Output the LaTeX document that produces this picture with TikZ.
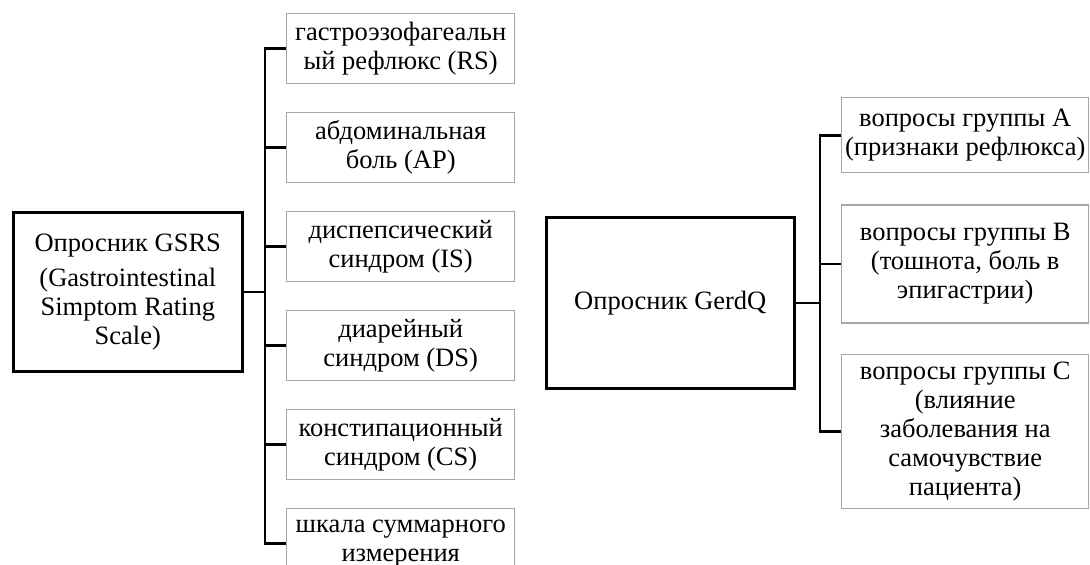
\documentclass[tikz,border=0pt]{standalone}
\usepackage{fontspec}
\setmainfont{Liberation Serif}
\newfontfamily\diagfont{Liberation Serif}
\usepackage{tikz}
\usetikzlibrary{positioning}
\definecolor{boxgray}{HTML}{A6A6A6}
\begin{document}
\begin{tikzpicture}[
  x=1pt, y=-1pt,
  node distance=27.6pt,
  every node/.style={font=\diagfont\fontsize{26.5}{29}\selectfont},
  main/.style={draw=black, line width=2.6pt, align=center, inner sep=0pt},
  item/.style={draw=boxgray, line width=1.4pt, align=center, inner sep=0pt, minimum width=228pt, minimum height=70pt},
  link/.style={line width=2.6pt, line join=miter}
]
\clip (0,0) rectangle (1090,565);
\node[main, minimum width=229pt, minimum height=159pt, anchor=north west] (gsrs) at (12,211) {Опросник GSRS\\[6pt](Gastrointestinal\\Simptom Rating\\Scale)};
\node[item, anchor=north west] (rs) at (286,13) {гастроэзофагеальн\\ый рефлюкс (RS)};
\node[item, below=of rs] (ap) {абдоминальная\\боль (AP)};
\node[item, below=of ap] (is) {диспепсический\\синдром (IS)};
\node[item, below=of is] (ds) {диарейный\\синдром (DS)};
\node[item, below=of ds] (cs) {констипационный\\синдром (CS)};
\node[item, below=of cs] (sum) {шкала суммарного\\измерения};

\node[main, minimum width=248pt, minimum height=171pt, anchor=north west] (gerdq) at (545,216) {Опросник GerdQ};
\node[item, minimum width=247pt, minimum height=75pt, anchor=north west] (qa) at (841,97) {вопросы группы A\\(признаки рефлюкса)};
\node[item, minimum width=247pt, minimum height=118pt, below=31pt of qa] (qb) {вопросы группы B\\(тошнота, боль в\\эпигастрии)};
\node[item, minimum width=247pt, minimum height=154pt, below=30pt of qb] (qc) {вопросы группы C\\(влияние\\заболевания на\\самочувствие\\пациента)};

\coordinate[right=21.5pt of gsrs.east] (jl);
\coordinate[right=24.5pt of gerdq.east] (jr);
\draw[link] (gsrs.east) -- (jl);
\draw[link] (rs.west) -- (jl |- rs.west) -- (jl |- sum.west) -- (sum.west);
\draw[link] (jl |- ap.west) -- (ap.west); \draw[link] (jl |- is.west) -- (is.west);
\draw[link] (jl |- ds.west) -- (ds.west); \draw[link] (jl |- cs.west) -- (cs.west);
\draw[link] (gerdq.east) -- (jr);
\draw[link] (qa.west) -- (jr |- qa.west) -- (jr |- qc.west) -- (qc.west);
\draw[link] (jr |- qb.west) -- (qb.west);
\end{tikzpicture}
\end{document}
